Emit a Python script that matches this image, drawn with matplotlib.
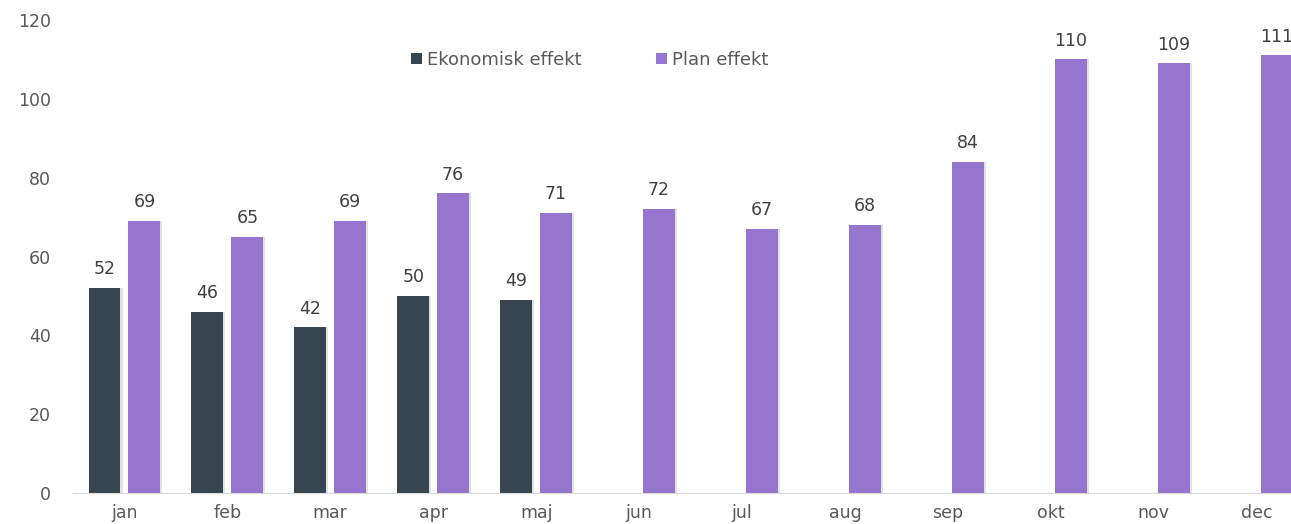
import matplotlib
matplotlib.use("Agg")
import matplotlib.pyplot as plt
import numpy as np

months = ["jan", "feb", "mar", "apr", "maj", "jun", "jul", "aug", "sep", "okt", "nov", "dec"]
ekonomisk = [52, 46, 42, 50, 49]
plan = [69, 65, 69, 76, 71, 72, 67, 68, 84, 110, 109, 111]
yticks = [0, 20, 40, 60, 80, 100, 120]

dark = "#36454F"
purple = "#9575CD"
txt = "#595959"
FAM = ["DejaVu Sans"]

plt.rcParams['font.family'] = FAM
fig = plt.figure(figsize=(12.91, 5.24), dpi=100)
ax = fig.add_axes([73/1291, 31/524, (1308-73)/1291, (493-20)/524])

x = np.arange(len(months))
w = 0.31
off = 0.194
xe = x[:len(ekonomisk)]
# faint shadow
ax.bar(xe - off + 0.02, ekonomisk, w, color="#cfcfcf", alpha=0.6, zorder=2)
ax.bar(x + off + 0.02, plan, w, color="#cfcfcf", alpha=0.6, zorder=2)
b1 = ax.bar(xe - off, ekonomisk, w, color=dark, label="Ekonomisk effekt", zorder=3)
b2 = ax.bar(x + off, plan, w, color=purple, label="Plan effekt", zorder=3)

for bars in (b1, b2):
    for r in bars:
        h = r.get_height()
        ax.annotate(f"{h:.0f}", (r.get_x() + r.get_width()/2, h), xytext=(0, 7),
                    textcoords="offset points", ha="center", va="bottom",
                    fontsize=12.5, color="#404040", family=FAM)

ax.set_xlim(-0.5, len(months) - 0.5)
ax.set_ylim(0, 120)
ax.set_yticks(yticks)
ax.set_xticks(x)
ax.set_xticklabels(months, family=FAM)
ax.set_yticklabels([str(v) for v in yticks], family=FAM)
ax.tick_params(axis="both", length=0, labelsize=12.5, colors=txt)
ax.tick_params(axis="x", pad=8)
ax.tick_params(axis="y", pad=16)
for s in ["top", "right", "left"]:
    ax.spines[s].set_visible(False)
ax.spines["bottom"].set_color("#d9d9d9")
ax.spines["bottom"].set_zorder(4)

leg = ax.legend(handles=[b1, b2], loc="center left",
                bbox_to_anchor=(411/1291, 1 - 60/524), bbox_transform=fig.transFigure,
                ncol=2, frameon=False, prop={"family": FAM, "size": 13},
                handlelength=0.6, handleheight=0.6, borderpad=0, borderaxespad=0,
                columnspacing=4.1, handletextpad=0.3)
for t in leg.get_texts():
    t.set_color(txt)

fig.savefig("out.png", dpi=100)
